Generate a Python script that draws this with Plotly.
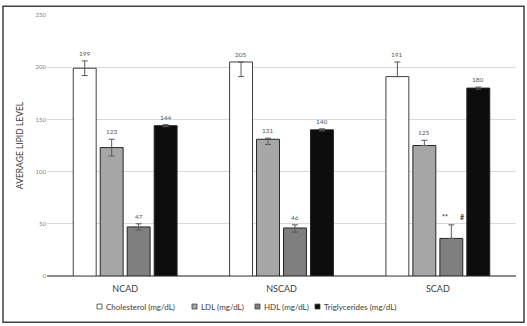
import plotly.graph_objects as go

groups = ["NCAD", "NSCAD", "SCAD"]
series = ["Cholesterol (mg/dL)", "LDL (mg/dL)", "HDL (mg/dL)", "Triglycerides (mg/dL)"]
cholesterol = [199, 205, 191]
ldl = [123, 131, 125]
hdl = [47, 46, 36]
trig = [144, 140, 180]
chol_plus, chol_minus = [7, 0, 14], [7, 14, 0]
ldl_plus, ldl_minus = [8, 1, 5], [8, 5, 0]
hdl_plus, hdl_minus = [3, 3, 13], [3, 4, 0]
trig_plus, trig_minus = [1, 1, 1], [1, 1, 1]
hdl_sig_a = ["", "", "**"]
hdl_sig_b = ["", "", "#"]
y_ticks = [0, 50, 100, 150, 200, 250]

values = [cholesterol, ldl, hdl, trig]
plus = [chol_plus, ldl_plus, hdl_plus, trig_plus]
minus = [chol_minus, ldl_minus, hdl_minus, trig_minus]
fills = ["#ffffff", "#a6a6a6", "#7f7f7f", "#0d0d0d"]
lines = ["#404040", "#262626", "#262626", "#262626"]

W, H = 527, 326
ML, MR, MT, MB = 47, 11, 11, 50
PW, PH = W - ML - MR, H - MT - MB

FONT = "Lato"
fig = go.Figure()
for name, v, p, m, fc, lc in zip(series, values, plus, minus, fills, lines):
    fig.add_trace(go.Bar(
        x=groups, y=v, name=name,
        marker=dict(color=fc, line=dict(color=lc, width=1)),
        error_y=dict(type="data", symmetric=False, array=p, arrayminus=m,
                     color="#595959", thickness=1, width=3),
        showlegend=False,
    ))

slot = PW / 3 * (1 - 0.31) / 4
annotations = []
for si, (v, p) in enumerate(zip(values, plus)):
    dx = (si - 1.5) * slot
    for gi, g in enumerate(groups):
        if si == 2 and hdl_sig_a[gi]:
            # significance marks replace the value label
            for txt, sx in ((hdl_sig_a[gi], -6), (hdl_sig_b[gi], 11)):
                annotations.append(dict(
                    x=g, y=v[gi] + p[gi], xref="x", yref="y", text="<b>" + txt + "</b>",
                    showarrow=False, xshift=dx + sx, yanchor="bottom", yshift=2,
                    font=dict(family=FONT, size=7, color="#404040")))
            continue
        annotations.append(dict(
            x=g, y=v[gi] + p[gi], xref="x", yref="y", text=str(v[gi]),
            showarrow=False, xshift=dx, yanchor="bottom", yshift=2,
            font=dict(family=FONT, size=6.5, color="#595959")))

# custom legend
leg_y_px = 307
leg_x_px = [97, 192, 255, 315]
shapes = []
for i, name in enumerate(series):
    x0 = (leg_x_px[i] - ML) / PW
    x1 = (leg_x_px[i] + 5 - ML) / PW
    yc = (MT + PH - leg_y_px) / PH
    h = 2.5 / PH
    shapes.append(dict(type="rect", xref="paper", yref="paper", x0=x0, x1=x1,
                       y0=yc - h, y1=yc + h, fillcolor=fills[i],
                       line=dict(color="#404040", width=0.8)))
    annotations.append(dict(x=(leg_x_px[i] + 6.5 - ML) / PW, y=yc, xref="paper", yref="paper",
                            text=name, showarrow=False, xanchor="left", yanchor="middle",
                            font=dict(family=FONT, size=8, color="#404040")))

# outer frame
shapes.append(dict(type="rect", xref="paper", yref="paper",
                   x0=(3 - ML) / PW, x1=(524 - ML) / PW,
                   y0=(MT + PH - 323) / PH, y1=(MT + PH - 2) / PH,
                   line=dict(color="#404040", width=1.5), fillcolor="rgba(0,0,0,0)"))

fig.update_layout(
    width=W, height=H, margin=dict(l=ML, r=MR, t=MT, b=MB),
    paper_bgcolor="white", plot_bgcolor="white",
    barmode="group", bargap=0.31, bargroupgap=0.15,
    font=dict(family=FONT, color="#404040"),
    annotations=annotations, shapes=shapes,
    xaxis=dict(showgrid=False, showline=False, ticks="", ticklabelstandoff=6,
               tickfont=dict(family=FONT, size=9, color="#404040")),
    yaxis=dict(range=[0, 250], tickvals=y_ticks, showgrid=True, gridcolor="#d9d9d9",
               gridwidth=1, zeroline=True, zerolinecolor="#8c8c8c", zerolinewidth=1.5,
               tickfont=dict(family=FONT, size=6, color="#808080"), ticks="",
               title=dict(text="AVERAGE LIPID LEVEL", standoff=10,
                          font=dict(family=FONT, size=8.5, color="#404040"))),
)
fig.write_html("out.html")
